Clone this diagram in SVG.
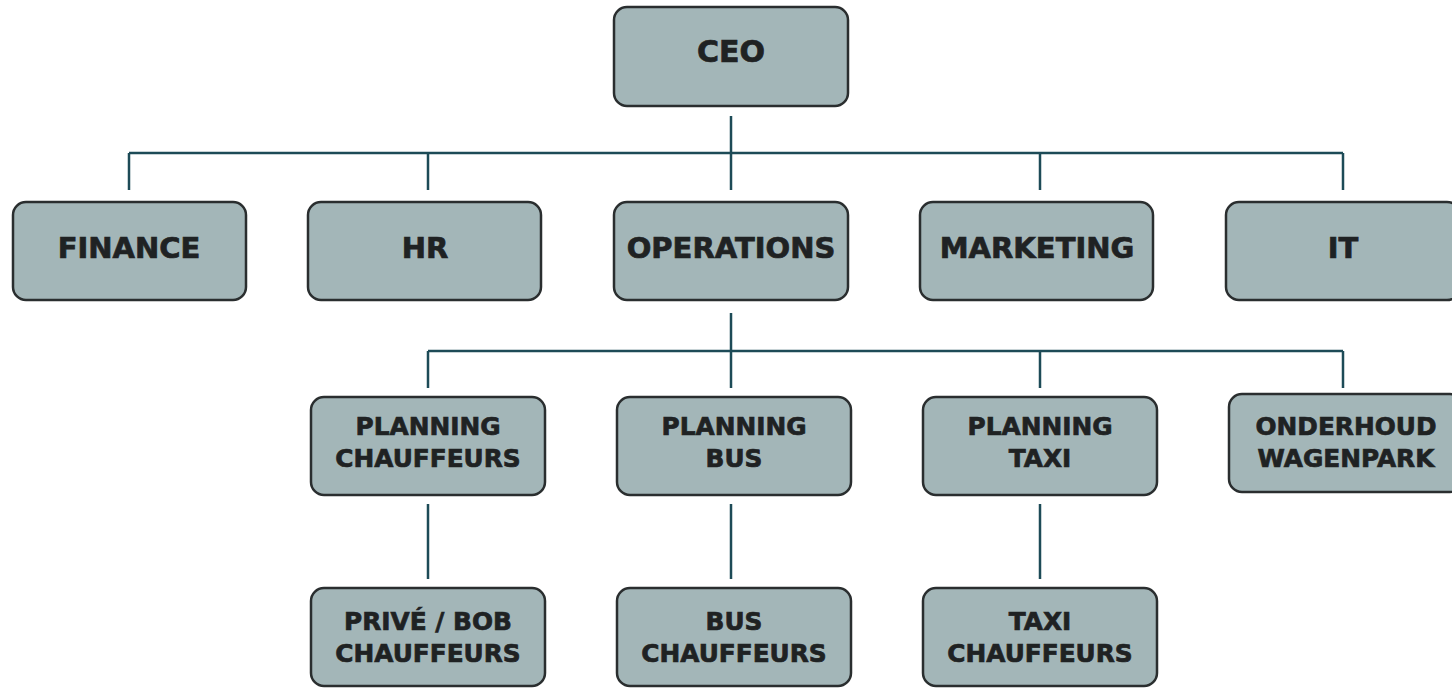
<svg xmlns="http://www.w3.org/2000/svg" width="1452" height="689" viewBox="0 0 1452 689">
<style>
.box{fill:#a3b6b8;stroke:#2a2e2f;stroke-width:2.5}
.t{font-family:"DejaVu Sans",sans-serif;font-weight:bold;fill:#1f2223;stroke:#1f2223;stroke-width:0.7;text-anchor:middle}
.t1{font-size:30px}
.t2{font-size:29px}
.t3{font-size:24.8px}
.c{stroke:#1d4b57;stroke-width:2.5;fill:none}
</style>
<rect width="1452" height="689" fill="#ffffff"/>
<g id="connectors">
<path class="c" d="M731 116V190M129 153H1343M129 153V190M428 153V190M1040 153V190M1343 153V190"/>
<path class="c" d="M731 313V388M428 351H1343M428 351V388M1040 351V388M1343 351V388"/>
<path class="c" d="M428 504V579M731 504V579M1040 504V579"/>
</g>
<g id="ceo"><rect class="box" x="614" y="7" width="234" height="99" rx="13"/><text class="t t1" x="731" y="62">CEO</text></g>
<g id="finance"><rect class="box" x="13" y="202" width="233" height="98" rx="13"/><text class="t t2" x="129" y="258">FINANCE</text></g>
<g id="hr"><rect class="box" x="308" y="202" width="233" height="98" rx="13"/><text class="t t2" x="425" y="258">HR</text></g>
<g id="operations"><rect class="box" x="614" y="202" width="234" height="98" rx="13"/><text class="t t2" x="731" y="258">OPERATIONS</text></g>
<g id="marketing"><rect class="box" x="920" y="202" width="233" height="98" rx="13"/><text class="t t2" x="1037" y="258">MARKETING</text></g>
<g id="it"><rect class="box" x="1226" y="202" width="234" height="98" rx="13"/><text class="t t2" x="1343" y="258">IT</text></g>
<g id="planning-chauffeurs"><rect class="box" x="311" y="397" width="234" height="98" rx="13"/><text class="t t3" x="428" y="434.5">PLANNING</text><text class="t t3" x="428" y="466.5">CHAUFFEURS</text></g>
<g id="planning-bus"><rect class="box" x="617" y="397" width="234" height="98" rx="13"/><text class="t t3" x="734" y="434.5">PLANNING</text><text class="t t3" x="734" y="466.5">BUS</text></g>
<g id="planning-taxi"><rect class="box" x="923" y="397" width="234" height="98" rx="13"/><text class="t t3" x="1040" y="434.5">PLANNING</text><text class="t t3" x="1040" y="466.5">TAXI</text></g>
<g id="onderhoud-wagenpark"><rect class="box" x="1229" y="394" width="234" height="98" rx="13"/><text class="t t3" x="1346" y="434.5">ONDERHOUD</text><text class="t t3" x="1346" y="466.5">WAGENPARK</text></g>
<g id="prive-bob-chauffeurs"><rect class="box" x="311" y="588" width="234" height="98" rx="13"/><text class="t t3" x="428" y="629.5">PRIVÉ / BOB</text><text class="t t3" x="428" y="661.5">CHAUFFEURS</text></g>
<g id="bus-chauffeurs"><rect class="box" x="617" y="588" width="234" height="98" rx="13"/><text class="t t3" x="734" y="629.5">BUS</text><text class="t t3" x="734" y="661.5">CHAUFFEURS</text></g>
<g id="taxi-chauffeurs"><rect class="box" x="923" y="588" width="234" height="98" rx="13"/><text class="t t3" x="1040" y="629.5">TAXI</text><text class="t t3" x="1040" y="661.5">CHAUFFEURS</text></g>
</svg>
